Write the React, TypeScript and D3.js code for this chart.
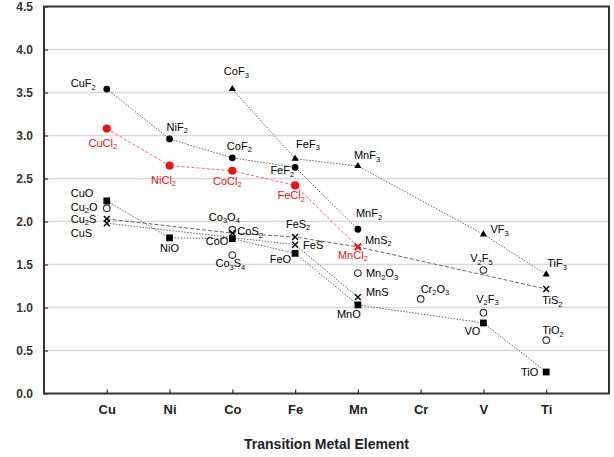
import { useEffect, useRef } from 'react';
import * as d3 from 'd3';

// [element, compound, value]
type Point = [string, string, number];

const elements = ['Cu', 'Ni', 'Co', 'Fe', 'Mn', 'Cr', 'V', 'Ti'];
const yTicks = [0, 0.5, 1.0, 1.5, 2.0, 2.5, 3.0, 3.5, 4.0, 4.5];

const difluorides: Point[] = [
  ['Cu', 'CuF2', 3.54], ['Ni', 'NiF2', 2.96], ['Co', 'CoF2', 2.74],
  ['Fe', 'FeF2', 2.63], ['Mn', 'MnF2', 1.91],
];
const trifluorides: Point[] = [
  ['Co', 'CoF3', 3.54], ['Fe', 'FeF3', 2.73], ['Mn', 'MnF3', 2.645],
  ['V', 'VF3', 1.85], ['Ti', 'TiF3', 1.385],
];
const dichlorides: Point[] = [
  ['Cu', 'CuCl2', 3.08], ['Ni', 'NiCl2', 2.65], ['Co', 'CoCl2', 2.59],
  ['Fe', 'FeCl2', 2.42], ['Mn', 'MnCl2', 1.705],
];
const monoxides: Point[] = [
  ['Cu', 'CuO', 2.24], ['Ni', 'NiO', 1.81], ['Co', 'CoO', 1.80], ['Fe', 'FeO', 1.63],
  ['Mn', 'MnO', 1.03], ['V', 'VO', 0.82], ['Ti', 'TiO', 0.25],
];
const disulfides: Point[] = [
  ['Cu', 'Cu2S', 2.03], ['Co', 'CoS2', 1.865], ['Fe', 'FeS2', 1.82],
  ['Mn', 'MnS2', 1.705], ['Ti', 'TiS2', 1.215],
];
const monosulfides: Point[] = [
  ['Cu', 'CuS', 1.98], ['Fe', 'FeS', 1.73], ['Mn', 'MnS', 1.12],
];
const others: Point[] = [
  ['Cu', 'Cu2O', 2.155], ['Co', 'Co3O4', 1.905], ['Co', 'Co3S4', 1.61],
  ['Mn', 'Mn2O3', 1.40], ['Cr', 'Cr2O3', 1.10], ['V', 'V2F5', 1.435],
  ['V', 'V2F3', 0.94], ['Ti', 'TiO2', 0.62],
];

// label placement: anchor, dx, dy (baseline) relative to the marker
const labelPos: Record<string, [string, number, number]> = {
  CuF2: ['start', -36, -2], NiF2: ['start', -3, -8], CoF2: ['middle', 7, -8],
  FeF2: ['end', -1, 7], MnF2: ['start', -2, -12],
  CoF3: ['middle', 4, -14], FeF3: ['start', 1, -11], MnF3: ['start', -4, -7],
  VF3: ['start', 7, -1], TiF3: ['start', 1, -7],
  CuCl2: ['middle', -4, 18], NiCl2: ['middle', -6, 18], CoCl2: ['middle', -5, 14],
  FeCl2: ['middle', -4, 14], MnCl2: ['middle', -5, 12],
  CuO: ['start', -36, -4], NiO: ['middle', 0, 14], CoO: ['end', -4, 6],
  FeO: ['end', -4, 10], MnO: ['middle', -9, 13], VO: ['end', -3, 12], TiO: ['end', -8, 4],
  Cu2S: ['start', -36, 4], CoS2: ['start', 5, 2], FeS2: ['middle', 3, -9],
  MnS2: ['start', 7, -3], TiS2: ['start', -4, 15],
  CuS: ['start', -36, 13.5], FeS: ['start', 8, 4], MnS: ['start', 8, -1],
  Cu2O: ['start', -36, 2.5], Co3O4: ['middle', -8, -9], Co3S4: ['middle', -2, 12],
  Mn2O3: ['start', 8, 4], Cr2O3: ['start', 0, -6], V2F5: ['middle', -2, -8],
  V2F3: ['middle', 4, -10], TiO2: ['start', -4, -6],
};

const W = 614;
const H = 457;
const margin = { top: 6.5, right: 5, bottom: 63.5, left: 44 };
const FONT = '"Liberation Sans", Arial, sans-serif';
const RED = '#ee1111';

const App = () => {
  const svgRef = useRef<SVGSVGElement>(null);

  useEffect(() => {
    const svg = d3.select(svgRef.current);
    svg.selectAll('*').remove();

    const x = d3.scaleLinear().domain([0, elements.length + 1]).range([margin.left, W - margin.right]);
    const y = d3.scaleLinear().domain([0, 4.5]).range([H - margin.bottom, margin.top]);
    const px = (d: Point) => x(elements.indexOf(d[0]) + 1);
    const py = (d: Point) => y(d[2]);

    // grid
    svg.append('g')
      .selectAll('line')
      .data(yTicks.slice(1, -1))
      .enter().append('line')
      .attr('x1', margin.left).attr('x2', W - margin.right)
      .attr('y1', d => y(d)).attr('y2', d => y(d))
      .attr('stroke', '#d9d9d9').attr('stroke-width', 1.5);

    // y axis
    const yAxis = svg.append('g')
      .attr('transform', `translate(${margin.left},0)`)
      .call(d3.axisLeft(y).tickValues(yTicks).tickFormat(d3.format('.1f')).tickSizeInner(-4).tickSizeOuter(0).tickPadding(11));
    yAxis.select('.domain').remove();
    yAxis.selectAll('line').attr('stroke', '#333').attr('stroke-width', 1.2);
    yAxis.selectAll('text').attr('font-family', FONT).attr('font-size', 12).attr('font-weight', 'bold').attr('fill', '#333');

    // x axis
    const xAxis = svg.append('g')
      .attr('transform', `translate(0,${H - margin.bottom})`)
      .call(d3.axisBottom(x).tickValues(d3.range(1, elements.length + 1))
        .tickFormat((d) => elements[(d as number) - 1]).tickSizeInner(-4).tickSizeOuter(0).tickPadding(11));
    xAxis.select('.domain').remove();
    xAxis.selectAll('line').attr('stroke', '#333').attr('stroke-width', 1.2);
    xAxis.selectAll('text').attr('font-family', FONT).attr('font-size', 13).attr('font-weight', 'bold').attr('fill', '#222');

    svg.append('text')
      .attr('x', (margin.left + W - margin.right) / 2)
      .attr('y', 449)
      .attr('text-anchor', 'middle')
      .attr('font-family', FONT).attr('font-size', 14).attr('font-weight', 'bold').attr('fill', '#222')
      .text('Transition Metal Element');

    // connecting lines
    const line = d3.line<Point>().x(px).y(py);
    const chains = [
      { data: difluorides, stroke: '#555', dash: '1.5,1.5' },
      { data: trifluorides, stroke: '#555', dash: '1.5,1.5' },
      { data: monoxides, stroke: '#555', dash: '1.5,1.5' },
      { data: monosulfides, stroke: '#555', dash: '1.5,1.5' },
      { data: disulfides, stroke: '#555', dash: '4,2' },
      { data: dichlorides, stroke: '#ff5555', dash: '3,2' },
    ];
    svg.append('g').selectAll('path')
      .data(chains)
      .enter().append('path')
      .attr('d', d => line(d.data))
      .attr('fill', 'none')
      .attr('stroke', d => d.stroke)
      .attr('stroke-width', 0.9)
      .attr('stroke-dasharray', d => d.dash);

    // markers
    const markerSets = [
      { data: others, type: d3.symbolCircle, size: 34, fill: '#fff', stroke: '#333', sw: 1.1 },
      { data: difluorides, type: d3.symbolCircle, size: 36, fill: '#000', stroke: 'none', sw: 0 },
      { data: trifluorides, type: d3.symbolTriangle, size: 22, fill: '#000', stroke: 'none', sw: 0 },
      { data: monoxides, type: d3.symbolSquare, size: 46, fill: '#000', stroke: 'none', sw: 0 },
      { data: disulfides, type: d3.symbolTimes, size: 24, fill: 'none', stroke: '#000', sw: 1.4 },
      { data: monosulfides, type: d3.symbolTimes, size: 24, fill: 'none', stroke: '#000', sw: 1.4 },
      { data: dichlorides.slice(0, 4), type: d3.symbolCircle, size: 52, fill: RED, stroke: 'none', sw: 0 },
      { data: dichlorides.slice(4), type: d3.symbolTimes, size: 30, fill: 'none', stroke: RED, sw: 2 },
    ];
    markerSets.forEach(set => {
      svg.append('g').selectAll('path')
        .data(set.data)
        .enter().append('path')
        .attr('transform', d => `translate(${px(d)},${py(d)})`)
        .attr('d', d3.symbol().type(set.type).size(set.size)())
        .attr('fill', set.fill)
        .attr('stroke', set.stroke)
        .attr('stroke-width', set.sw);
    });

    // compound labels with subscripted numbers
    const allPoints = [...difluorides, ...trifluorides, ...monoxides, ...disulfides, ...monosulfides, ...others];
    const labels = svg.append('g').attr('font-family', FONT).attr('font-size', 11);
    const addLabel = (d: Point, color: string) => {
      const [anchor, dx, dy] = labelPos[d[1]];
      const t = labels.append('text')
        .attr('x', px(d) + dx)
        .attr('y', py(d) + dy)
        .attr('text-anchor', anchor)
        .attr('fill', color);
      let shifted = false;
      d[1].split(/(\d+)/).filter(s => s.length).forEach(part => {
        const isSub = /^\d+$/.test(part);
        const ts = t.append('tspan').text(part);
        if (isSub) {
          ts.attr('font-size', 7.5).attr('dy', 2.5);
          shifted = true;
        } else if (shifted) {
          ts.attr('dy', -2.5);
          shifted = false;
        }
      });
    };
    allPoints.forEach(d => addLabel(d, '#000'));
    dichlorides.forEach(d => addLabel(d, RED));

    // plot frame
    svg.append('rect')
      .attr('x', margin.left).attr('y', margin.top)
      .attr('width', W - margin.left - margin.right)
      .attr('height', H - margin.top - margin.bottom)
      .attr('fill', 'none').attr('stroke', '#333').attr('stroke-width', 2);
  }, []);

  return (
    <svg ref={svgRef} width={W} height={H}
      style={{ position: 'absolute', left: 0, top: 0, background: '#fff' }} />
  );
};

export default App;
